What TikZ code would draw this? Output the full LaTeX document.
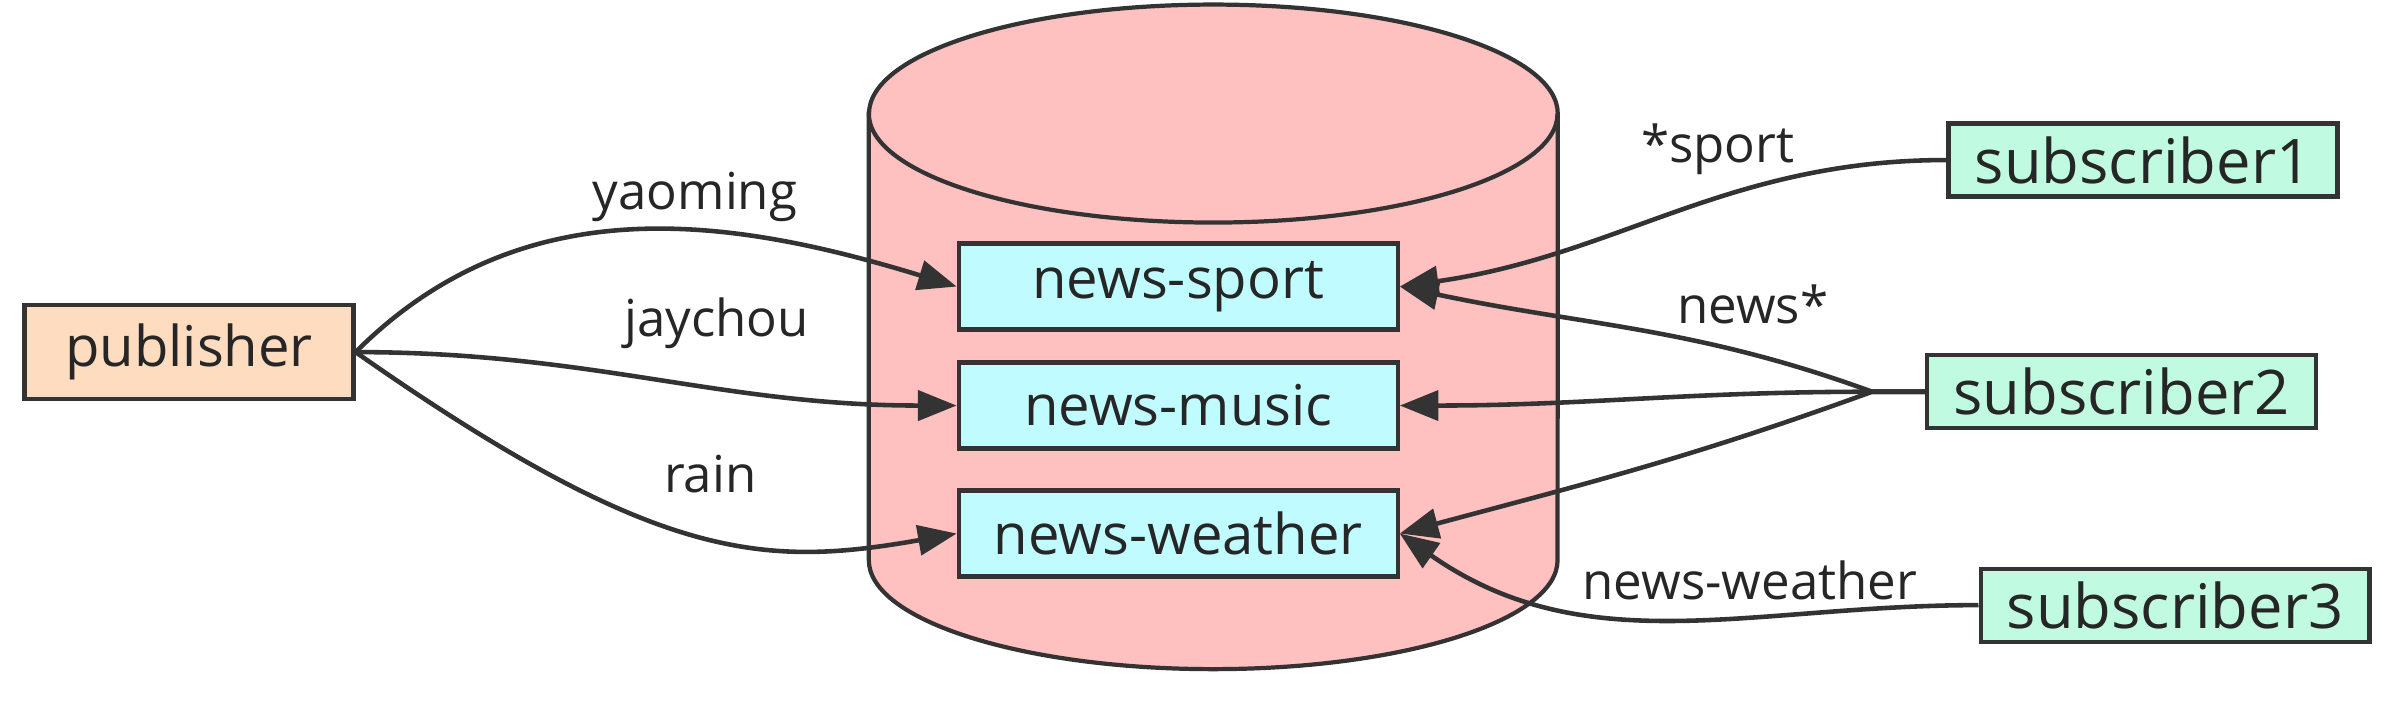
\documentclass[tikz,border=0pt]{standalone}
\usepackage{fontspec}
\setmainfont{Open Sans}
\usetikzlibrary{arrows.meta}
\definecolor{pubfill}{HTML}{FDDCC0}
\definecolor{dbfill}{HTML}{FFC0C0}
\definecolor{topicfill}{HTML}{C0FCFF}
\definecolor{subfill}{HTML}{C0FAE0}
\definecolor{edgegray}{HTML}{333333}
\begin{document}
\begin{tikzpicture}[x=0.01524cm, y=0.01524cm]
		\tikzstyle{box} =[draw=edgegray, line width=1.2pt, inner sep=0pt, text=black!85, font=\fontsize{16}{19}\selectfont];
		\tikzstyle{topic} =[box, minimum width=4.39cm, minimum height=0.86cm, fill=topicfill];
		\tikzstyle{sub} =[box, minimum width=3.89cm, minimum height=0.73cm, fill=subfill, font=\fontsize{17.5}{20}\selectfont];
		\tikzstyle{lbl} =[text=black!85, font=\fontsize{14.5}{17}\selectfont];
		\tikzstyle{link} =[-{Triangle[length=11pt, width=8.5pt]}, line width=1.3pt, draw=edgegray];
		\useasboundingbox (0,0) rectangle (1568,476);
		
		% the store
		\filldraw[fill=dbfill, draw=edgegray, line width=1.2pt] (570,401.5) -- (570,108.5) arc[start angle=180, end angle=360, x radius=3.444cm, y radius=1.09cm] -- (1022,401.5) arc[start angle=0, end angle=180, x radius=3.444cm, y radius=1.09cm] -- cycle;
		\draw[draw=edgegray, line width=1.2pt] (570,401.5) arc[start angle=180, end angle=360, x radius=3.444cm, y radius=1.09cm];
		
		\node[box, minimum width=3.29cm, minimum height=0.94cm, fill=pubfill] (publisher) at (124,245) {publisher};
		
		\node[topic] (sport) at (773,288) {news-sport};
		\node[topic, below of = sport, node distance=1.19cm] (music) {news-music};
		\node[topic, below of = music, node distance=1.28cm] (weather) {news-weather};
		
		\node[sub] (sub1) at (1406,371) {subscriber1};
		\node[sub] (sub2) at (1392,219) {subscriber2};
		\node[sub] (sub3) at (1427,79) {subscriber3};
		\coordinate (hub) at ([xshift=-0.53cm]sub2.west);
		
		\node[lbl] (yaoming) at (456,347) {yaoming};
		\node[lbl] (jaychou) at (470,264) {jaychou};
		\node[lbl] (rain) at (466,165) {rain};
		\node[lbl] (starsport) at (1127,378) {*sport};
		\node[lbl] (newsstar) at (1150,276) {news*};
		\node[lbl] (newsweather) at (1148,95) {news-weather};
		
		\draw[link] (publisher.east) to[out=45, in=163] (sport.west);
		\draw[link] (publisher.east) to[out=0, in=180] (music.west);
		\draw[link] (publisher.east) to[out=-35, in=190, out looseness=1.5, in looseness=0.8] (weather.west);
		
		\draw[link] (sub1.west) to[out=180, in=8] (sport.east);
		\draw[link] (sub2.west) -- (hub) to[out=160, in=-12] (sport.east);
		\draw[link] (sub2.west) -- (hub) to[out=180, in=0] (music.east);
		\draw[link] (sub2.west) -- (hub) to[out=200, in=15] (weather.east);
		\draw[link] (sub3.west) to[out=180, in=-35] (weather.east);
	\end{tikzpicture}
\end{document}
